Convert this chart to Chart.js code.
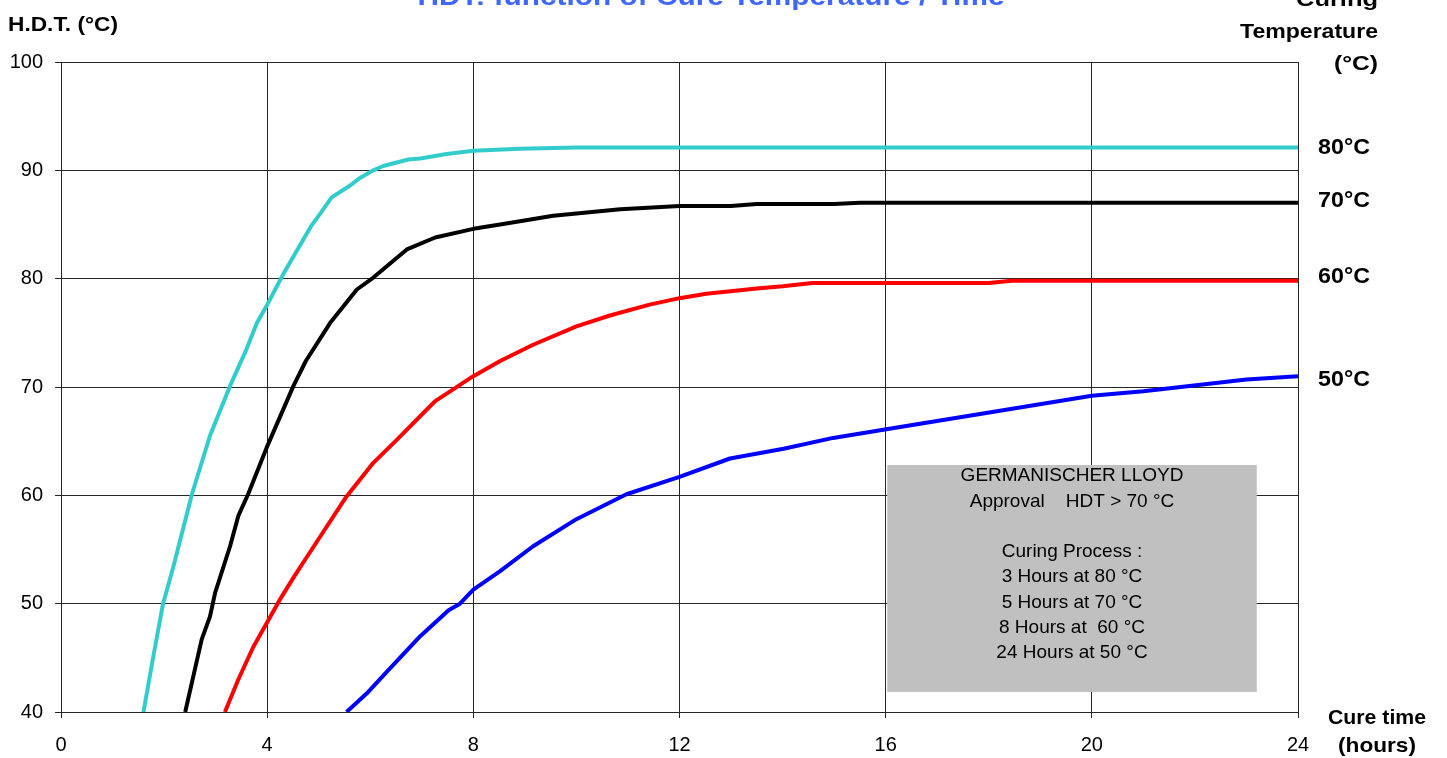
<!DOCTYPE html>
<html>
<head>
<meta charset="utf-8">
<script src="https://cdn.jsdelivr.net/npm/chart.js@4/dist/chart.umd.min.js"></script>
<style>
  html, body { margin: 0; padding: 0; background: #fff; }
  #wrap { width: 1447px; height: 758px; position: relative; }
</style>
</head>
<body>
<div id="wrap"><canvas id="c" width="1447" height="758"></canvas></div>
<script>
// Heat deflection temperature (°C) against cure time (hours), one curve per curing temperature
const hours80 = [1.60, 1.79, 1.98, 2.18, 2.54, 2.89, 3.28, 3.60, 3.80, 3.99, 4.31, 4.86, 5.03, 5.25, 5.61, 5.80, 6.06, 6.25, 6.74, 6.97, 7.48, 8.00, 8.90, 10.0, 24.0];
const hdt80   = [40.0, 45.1, 50.0, 53.4, 60.1, 65.5, 70.1, 73.5, 75.9, 77.5, 80.4, 84.9, 86.0, 87.5, 88.6, 89.3, 90.0, 90.4, 91.0, 91.1, 91.5, 91.8, 92.0, 92.1, 92.1];

const hours70 = [2.41, 2.73, 2.89, 2.99, 3.28, 3.44, 3.63, 3.99, 4.51, 4.75, 5.22, 5.74, 6.06, 6.71, 7.26, 8.00, 8.52, 9.55, 10.85, 12.0, 13.0, 13.5, 15.0, 15.5, 24.0];
const hdt70   = [40.0, 46.7, 48.8, 51.0, 55.3, 58.1, 60.1, 64.4, 70.1, 72.4, 75.9, 79.0, 80.1, 82.7, 83.8, 84.6, 85.0, 85.8, 86.4, 86.7, 86.7, 86.9, 86.9, 87.0, 87.0];

const hours60 = [3.18, 3.44, 3.73, 3.99, 4.25, 4.51, 4.70, 5.03, 5.54, 6.06, 6.51, 7.03, 7.26, 8.00, 8.52, 9.16, 10.0, 10.65, 11.42, 12.0, 12.52, 13.5, 14.0, 14.58, 15.0, 18.0, 18.45, 24.0];
const hdt60   = [40.0, 43.0, 46.0, 48.2, 50.4, 52.4, 53.8, 56.2, 59.9, 63.0, 65.1, 67.6, 68.7, 71.0, 72.4, 73.9, 75.6, 76.6, 77.6, 78.2, 78.6, 79.1, 79.3, 79.6, 79.6, 79.6, 79.8, 79.8];

const hours50 = [5.54, 5.93, 6.32, 6.97, 7.52, 7.74, 8.00, 8.52, 9.16, 10.0, 10.97, 12.0, 12.98, 14.02, 14.98, 16.28, 17.95, 20.0, 21.0, 23.0, 24.0];
const hdt50   = [40.0, 41.7, 43.7, 47.0, 49.4, 50.0, 51.3, 53.0, 55.3, 57.8, 60.1, 61.7, 63.4, 64.3, 65.3, 66.3, 67.6, 69.2, 69.6, 70.7, 71.0];

const curveNames = ['80°C', '70°C', '60°C', '50°C'];
const timeTicks = [0, 4, 8, 12, 16, 20, 24];
const hdtTicks = [40, 50, 60, 70, 80, 90, 100];

const noteLines = [
  'GERMANISCHER LLOYD',
  'Approval    HDT > 70 °C',
  '',
  'Curing Process :',
  '3 Hours at 80 °C',
  '5 Hours at 70 °C',
  '8 Hours at  60 °C',
  '24 Hours at 50 °C'
];
// note box extent in axis units (hours, °C)
const noteHours = [16.03, 23.2];
const noteHdt = [41.85, 62.8];

const FAMILY = '"Liberation Sans", Arial, Helvetica, sans-serif';
const GRID = '#262626';

function pts(xs, ys) { return xs.map((x, i) => ({ x: x, y: ys[i] })); }

// draws text, optionally stretched horizontally to a given width
function drawText(ctx, str, x, y, o) {
  ctx.save();
  ctx.font = o.font;
  ctx.fillStyle = o.color || '#000';
  ctx.textAlign = o.align || 'left';
  ctx.textBaseline = o.baseline || 'alphabetic';
  let sx = 1;
  if (o.width) sx = o.width / ctx.measureText(str).width;
  ctx.translate(x, y);
  ctx.scale(sx, 1);
  ctx.fillText(str, 0, 0);
  ctx.restore();
}

const notePlugin = {
  id: 'noteBox',
  beforeDatasetsDraw(chart) {
    const ctx = chart.ctx, xs = chart.scales.x, ys = chart.scales.y;
    const l = xs.getPixelForValue(noteHours[0]), r = xs.getPixelForValue(noteHours[1]);
    const t = ys.getPixelForValue(noteHdt[1]), b = ys.getPixelForValue(noteHdt[0]);
    ctx.save();
    ctx.fillStyle = '#C0C0C0';
    ctx.fillRect(l, t, r - l, b - t);
    const cx = (l + r) / 2;
    noteLines.forEach((s, i) => {
      if (s) drawText(ctx, s, cx, t + 11 + i * 25.3, { font: '19px ' + FAMILY, align: 'center', baseline: 'middle', color: '#000' });
    });
    ctx.restore();
  }
};

const labelPlugin = {
  id: 'labels',
  afterDraw(chart) {
    const ctx = chart.ctx;
    const bold = s => 'bold ' + s + 'px ' + FAMILY;
    // title
    drawText(ctx, 'HDT: function of Cure Temperature / Time', 711, 5, { font: bold(26), align: 'center', color: '#3F66FF', width: 587 });
    // y axis title
    drawText(ctx, 'H.D.T. (°C)', 8, 31, { font: bold(21), width: 110 });
    // right-hand heading
    drawText(ctx, 'Curing', 1378, 6, { font: bold(21), align: 'right', width: 82 });
    drawText(ctx, 'Temperature', 1378, 38, { font: bold(21), align: 'right', width: 138 });
    drawText(ctx, '(°C)', 1378, 70, { font: bold(21), align: 'right', width: 44 });
    // x axis title
    drawText(ctx, 'Cure time', 1377, 724, { font: bold(21), align: 'center', width: 98 });
    drawText(ctx, '(hours)', 1377, 752, { font: bold(21), align: 'center', width: 78 });
    // curve names at the line ends
    const offsets = [0, -2, -4, 4];
    chart.data.datasets.forEach((ds, i) => {
      const meta = chart.getDatasetMeta(i);
      const last = meta.data[meta.data.length - 1];
      drawText(ctx, curveNames[i], 1344, last.y + offsets[i], { font: bold(22), align: 'center', baseline: 'middle', width: 52 });
    });
  }
};

const lineStyle = { borderWidth: 4, pointRadius: 0, tension: 0, fill: false, borderJoinStyle: 'round' };

new Chart(document.getElementById('c'), {
  type: 'line',
  data: {
    datasets: [
      Object.assign({ label: curveNames[0], data: pts(hours80, hdt80), borderColor: '#33CCCC' }, lineStyle),
      Object.assign({ label: curveNames[1], data: pts(hours70, hdt70), borderColor: '#000000' }, lineStyle),
      Object.assign({ label: curveNames[2], data: pts(hours60, hdt60), borderColor: '#FF0000' }, lineStyle),
      Object.assign({ label: curveNames[3], data: pts(hours50, hdt50), borderColor: '#0000FF' }, lineStyle)
    ]
  },
  options: {
    responsive: false,
    devicePixelRatio: 1,
    animation: false,
    layout: { padding: { top: 62, right: 149, left: 0, bottom: 0 } },
    plugins: { legend: { display: false }, tooltip: { enabled: false }, title: { display: false } },
    scales: {
      x: {
        type: 'linear', min: 0, max: 24,
        afterBuildTicks: s => { s.ticks = timeTicks.map(v => ({ value: v })); },
        afterFit: s => { s.height = 46; },
        ticks: { font: { family: FAMILY, size: 20 }, color: '#000', padding: 15, maxRotation: 0, autoSkip: false },
        grid: { color: GRID, lineWidth: 1, tickLength: 6 },
        border: { color: GRID, width: 1 }
      },
      y: {
        type: 'linear', min: 40, max: 100,
        afterBuildTicks: s => { s.ticks = hdtTicks.map(v => ({ value: v })); },
        afterFit: s => { s.width = 61; },
        ticks: { font: { family: FAMILY, size: 20 }, color: '#000', padding: 12, autoSkip: false },
        grid: { color: GRID, lineWidth: 1, tickLength: 6 },
        border: { color: GRID, width: 1 }
      }
    }
  },
  plugins: [notePlugin, labelPlugin]
});
</script>
</body>
</html>
